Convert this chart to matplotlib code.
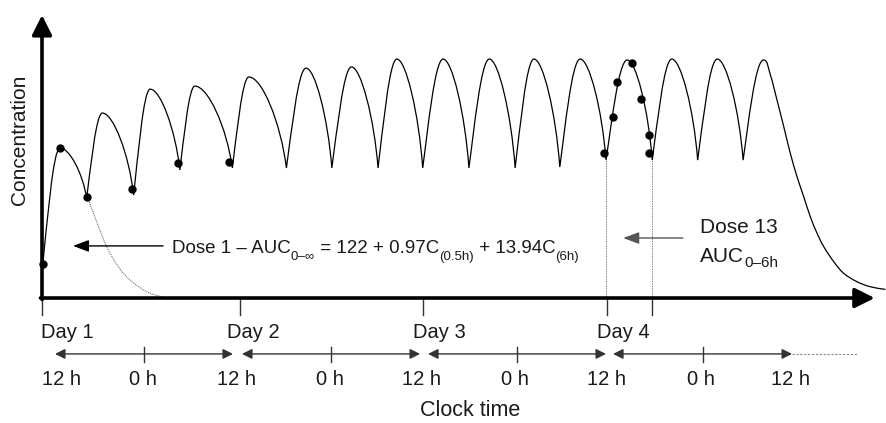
import matplotlib
matplotlib.use("Agg")
import matplotlib.pyplot as plt
import numpy as np
from matplotlib.path import Path
from matplotlib.patches import PathPatch

plt.rcParams["font.family"] = ["Liberation Sans", "DejaVu Sans"]

# time in hours from the first dose (Day 1, 12 h), concentration in arbitrary units
dose_t = [0.1, 5.7, 11.7, 17.6, 24.3, 31.2, 37.0, 42.9, 48.6, 54.5, 60.4, 66.1, 72.0, 77.9, 83.7, 89.5]
trough_c = [14.2, 41.8, 43.1, 53.6, 54.4, 54.4, 54.4, 54.4, 54.4, 54.4, 54.4, 54.8, 57.7, 57.7, 57.7, 57.7]
peak_t = [2.3, 7.7, 13.8, 19.5, 26.4, 33.7, 39.5, 45.3, 51.2, 57.1, 62.8, 68.7, 74.7, 80.4, 86.2, 92.1]
peak_c = [62.8, 77.4, 87.4, 88.7, 92.5, 96.2, 96.7, 100, 100, 100, 100, 100, 99.6, 100, 100, 99.6]

# wash-out after the last dose
tail_t = [92.98, 93.83, 94.69, 95.53, 96.39, 97.24, 98.08, 98.94, 99.79, 101.07, 102.35, 104.05, 105.74, 107.66]
tail_c = [93.4, 82.8, 71.7, 60.5, 50.7, 42.4, 34.0, 27.1, 21.5, 15.2, 10.3, 6.8, 4.7, 3.6]

# extrapolated decline of dose 1
extrap_t = [5.78, 6.98, 8.26, 9.74, 11.23, 13.37, 15.49]
extrap_c = [42.4, 31.9, 21.5, 13.1, 7.5, 2.6, 0.3]

# sampled points
dose1_t = [0.13, 2.3, 5.74]
dose1_c = [14.2, 62.8, 42.3]
predose_t = [11.49, 17.36, 23.87]
predose_c = [45.6, 56.5, 56.9]
dose13_t = [71.75, 72.9, 73.4, 75.3, 76.5, 77.5, 77.5]
dose13_c = [60.7, 75.7, 90.4, 98.3, 83.3, 68.2, 60.7]

day_labels = ["Day 1", "Day 2", "Day 3", "Day 4"]
day_t = [0, 25.3, 48.6, 72.1]
day_label_t = [-0.1, 23.6, 47.4, 70.9]
extra_tick_t = [77.9]
clock_labels = ["12 h", "0 h", "12 h", "0 h", "12 h", "0 h", "12 h", "0 h", "12 h"]
clock_t = [2.55, 12.9, 24.77, 36.8, 48.5, 60.4, 72.1, 84.1, 95.5]
span_start = [1.66, 25.53, 49.28, 72.9]
span_end = [24.38, 48.26, 72.0, 95.75]
span_mid = [13.0, 36.9, 60.6, 84.4]

TXT = "#1a1a1a"


def catmull(pts, start_tan=None):
    pts = np.asarray(pts, dtype=float)
    tans = np.zeros_like(pts)
    tans[1:-1] = (pts[2:] - pts[:-2]) / 2
    tans[0] = pts[1] - pts[0] if start_tan is None else start_tan
    tans[-1] = pts[-1] - pts[-2]
    out = []
    for i in range(len(pts) - 1):
        out += [pts[i] + tans[i] / 3, pts[i + 1] - tans[i + 1] / 3, pts[i + 1]]
    return out


def chain_text(ax, x, y, pieces, color=TXT):
    # pieces: (text, fontsize, vertical offset in points); small pieces act as subscripts
    s0, fs0, _ = pieces[0]
    base = ax.text(x, y, s0, fontsize=fs0, ha="left", va="baseline", color=color)
    prev = base
    for s, fs, dy in pieces[1:]:
        prev = ax.annotate(s, xy=(1, 0), xycoords=(prev, base), xytext=(0, dy),
                           textcoords="offset points", fontsize=fs, ha="left",
                           va="bottom", color=color)
    return base


fig = plt.figure(figsize=(8.87, 4.23), dpi=100)
ax = fig.add_axes([0, 0, 1, 1])
ax.set_xlim(-5.362, 107.87)
ax.set_ylim(-52.3, 124.7)
ax.axis("off")

# concentration curve: one rise and one fall per dose
verts = [(dose_t[0], trough_c[0])]
codes = [Path.MOVETO]
n = len(dose_t)
for i in range(n):
    t0, c0 = dose_t[i], trough_c[i]
    tp, cp = peak_t[i], peak_c[i]
    dt, dc = tp - t0, cp - c0
    verts += [(t0 + 0.25 * dt, c0 + 0.35 * dc), (tp - 0.4 * dt, cp), (tp, cp)]
    codes += [Path.CURVE4] * 3
    if i + 1 < n:
        t1, c1 = dose_t[i + 1], trough_c[i + 1]
        df, dd = t1 - tp, cp - c1
        verts += [(tp + 0.35 * df, cp), (t1 - 0.15 * df, cp - 0.5 * dd), (t1, c1)]
        codes += [Path.CURVE4] * 3
tail = [(peak_t[-1], peak_c[-1])] + list(zip(tail_t, tail_c))
tail_verts = catmull(tail, start_tan=np.array([2.0 * (tail_t[0] - peak_t[-1]), 0]))
verts += [tuple(v) for v in tail_verts]
codes += [Path.CURVE4] * len(tail_verts)
ax.add_patch(PathPatch(Path(verts, codes), fill=False, lw=0.9, ec="black", zorder=3))

ex = list(zip(extrap_t, extrap_c))
ex_verts = [ex[0]] + [tuple(v) for v in catmull(ex)]
ex_codes = [Path.MOVETO] + [Path.CURVE4] * (len(ex_verts) - 1)
ax.add_patch(PathPatch(Path(ex_verts, ex_codes), fill=False, lw=0.7, ec="#555555",
                       ls=(0, (1, 1)), zorder=2))

ax.plot(dose1_t + predose_t + dose13_t, dose1_c + predose_c + dose13_c, "o",
        color="black", ms=5, zorder=4)

# dotted guides for dose 13 interval
for t in [dose_t[12], dose_t[13]]:
    ax.plot([t, t], [0, trough_c[12]], color="#555555", lw=0.6, ls=(0, (1, 1)), zorder=1)

# axes with arrows
ax.annotate("", xy=(0, 118.4), xytext=(0, -0.6),
            arrowprops=dict(arrowstyle="-|>,head_length=0.6,head_width=0.3", lw=2.6,
                            color="black", shrinkA=0, shrinkB=0, mutation_scale=20))
ax.annotate("", xy=(106.3, 0), xytext=(-0.2, 0),
            arrowprops=dict(arrowstyle="-|>,head_length=0.6,head_width=0.3", lw=2.6,
                            color="black", shrinkA=0, shrinkB=0, mutation_scale=20))

for t in day_t + extra_tick_t:
    ax.plot([t, t], [0, -7.1], color="#333333", lw=1)
for lab, t in zip(day_labels, day_label_t):
    ax.text(t, -14.6, lab, ha="left", va="center", fontsize=14.5, color=TXT)

for a, b in zip(span_start, span_end):
    ax.annotate("", xy=(b, -23.4), xytext=(a, -23.4),
                arrowprops=dict(arrowstyle="<|-|>,head_length=0.6,head_width=0.3", lw=1,
                                color="#333333", shrinkA=0, shrinkB=0, mutation_scale=10))
for t in span_mid:
    ax.plot([t, t], [-20.5, -26.8], color="#333333", lw=1)
ax.plot([span_end[-1], 104.2], [-23.4, -23.4], color="#888888", lw=0.8, ls=(0, (2, 1.5)))

for lab, t in zip(clock_labels, clock_t):
    ax.text(t, -34.3, lab, ha="center", va="center", fontsize=14.5, color=TXT)
ax.text(54.7, -46.9, "Clock time", ha="center", va="center", fontsize=15.5, color=TXT)
ax.text(-2.81, 66.1, "Concentration", rotation=90, ha="center", va="center",
        fontsize=15, color=TXT)

# annotations
ax.annotate("", xy=(3.96, 21.8), xytext=(15.45, 21.8),
            arrowprops=dict(arrowstyle="-|>,head_length=0.8,head_width=0.3", lw=1,
                            color="black", shrinkA=0, shrinkB=0, mutation_scale=12))
chain_text(ax, 16.6, 18.8, [("Dose 1 – AUC", 13.5, 0), ("0–∞", 9.5, -4),
                            (" = 122 + 0.97C", 13.5, 0), ("(0.5h)", 9.5, -4),
                            (" + 13.94C", 13.5, 0), ("(6h)", 9.5, -4)])

ax.annotate("", xy=(74.2, 25.1), xytext=(81.8, 25.1),
            arrowprops=dict(arrowstyle="-|>,head_length=0.8,head_width=0.3", lw=1,
                            color="#555555", shrinkA=0, shrinkB=0, mutation_scale=12))
ax.text(84.0, 27.2, "Dose 13", ha="left", va="baseline", fontsize=15, color=TXT)
chain_text(ax, 84.0, 14.9, [("AUC", 15, 0), ("0–6h", 11, -2.8)])

fig.savefig("out.png", dpi=100)
